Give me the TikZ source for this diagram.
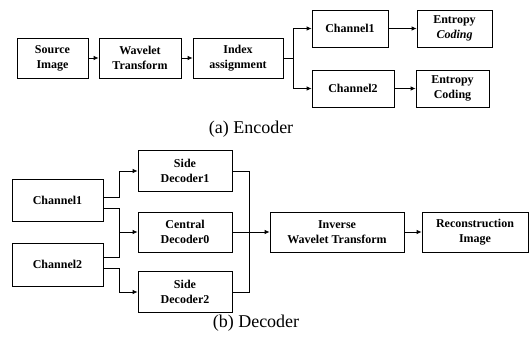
\documentclass[tikz,border=0pt]{standalone}
\usepackage{fontspec}
\setmainfont{Liberation Serif}
\usetikzlibrary{arrows.meta,positioning}

\begin{document}
\begin{tikzpicture}
		[x=1pt, y=-1pt, font=\fontsize{12}{15}\selectfont\bfseries,
		 block/.style={draw, line width=0.8pt, align=center, inner sep=0pt},
		 link/.style={line width=0.8pt},
		 arr/.style={link, -{Latex[length=5pt, width=4.5pt]}},
		 caption/.style={font=\fontsize{18}{20}\selectfont}]
		
		\useasboundingbox (0, 0) rectangle (529, 338);
		
		% encoder ------------------------------------------------
		\node[block, minimum width=71pt, minimum height=40pt] (src) at (52.5, 58) {Source\\Image};
		\node[block, minimum width=82pt, minimum height=40pt] (wav) at (140, 58) {Wavelet\\Transform};
		\node[block, minimum width=90pt, minimum height=40pt] (idx) at (238, 58) {Index\\assignment};
		
		\node[block, minimum width=76pt, minimum height=37pt] (enc1) at (350, 28.5) {Channel1};
		\node[block, minimum width=82pt, minimum height=37pt] (enc2) at (353, 88.5) {Channel2};
		
		\node[block, minimum width=75pt, minimum height=37pt] (ent1) at (454.5, 28.5) {Entropy\\\textit{Coding}};
		\node[block, minimum width=73pt, minimum height=37pt] (ent2) at (452.5, 88.5) {Entropy\\Coding};
		
		\coordinate (split) at (293, 58);
		
		\draw[arr]	(src) -- (wav);
		\draw[arr]	(wav) -- (idx);
		\draw[link]	(idx) -- (split);
		\draw[arr]	(split) |- (enc1);
		\draw[arr]	(split) |- (enc2);
		\draw[arr]	(enc1) -- (ent1);
		\draw[arr]	(enc2) -- (ent2);
		
		\node[caption] (capa) at (251, 129) {(a) Encoder};
		
		% decoder ------------------------------------------------
		\node[block, minimum width=91pt, minimum height=42pt] (dec1) at (57.5, 200) {Channel1};
		\node[block, minimum width=91pt, minimum height=43pt] (dec2) at (57.5, 264.5) {Channel2};
		
		\node[block, minimum width=94pt, minimum height=41pt] (side1) at (185, 171) {Side\\Decoder1};
		\node[block, minimum width=94pt, minimum height=40pt] (cent0) at (185, 232) {Central\\Decoder0};
		\node[block, minimum width=94pt, minimum height=41pt] (side2) at (185, 292) {Side\\Decoder2};
		
		\node[block, minimum width=134pt, minimum height=40pt] (inv) at (337, 232) {Inverse\\Wavelet Transform};
		\node[block, minimum width=106pt, minimum height=40pt] (rec) at (475, 232) {Reconstruction\\Image};
		
		\coordinate (m1) at (119, 171);
		\coordinate (m0) at (119, 232);
		\coordinate (m2) at (119, 292);
		\coordinate (merge) at (249, 232);
		
		\draw[arr]	([yshift=3pt]dec1.east) -| (m1) -- (side1);
		\draw[link]	([yshift=-8pt]dec1.east) -| (m0);
		\draw[link]	([yshift=7.5pt]dec2.east) -| (m0);
		\draw[arr]	(m0) -- (cent0);
		\draw[arr]	([yshift=-3.5pt]dec2.east) -| (m2) -- (side2);
		
		\draw[link]	(side1.east) -| (merge);
		\draw[link]	(side2.east) -| (merge);
		\draw[arr]	(cent0) -- (inv);
		\draw[arr]	(inv) -- (rec);
		
		\node[caption] (capb) at (256, 323) {(b) Decoder};
\end{tikzpicture}
\end{document}
